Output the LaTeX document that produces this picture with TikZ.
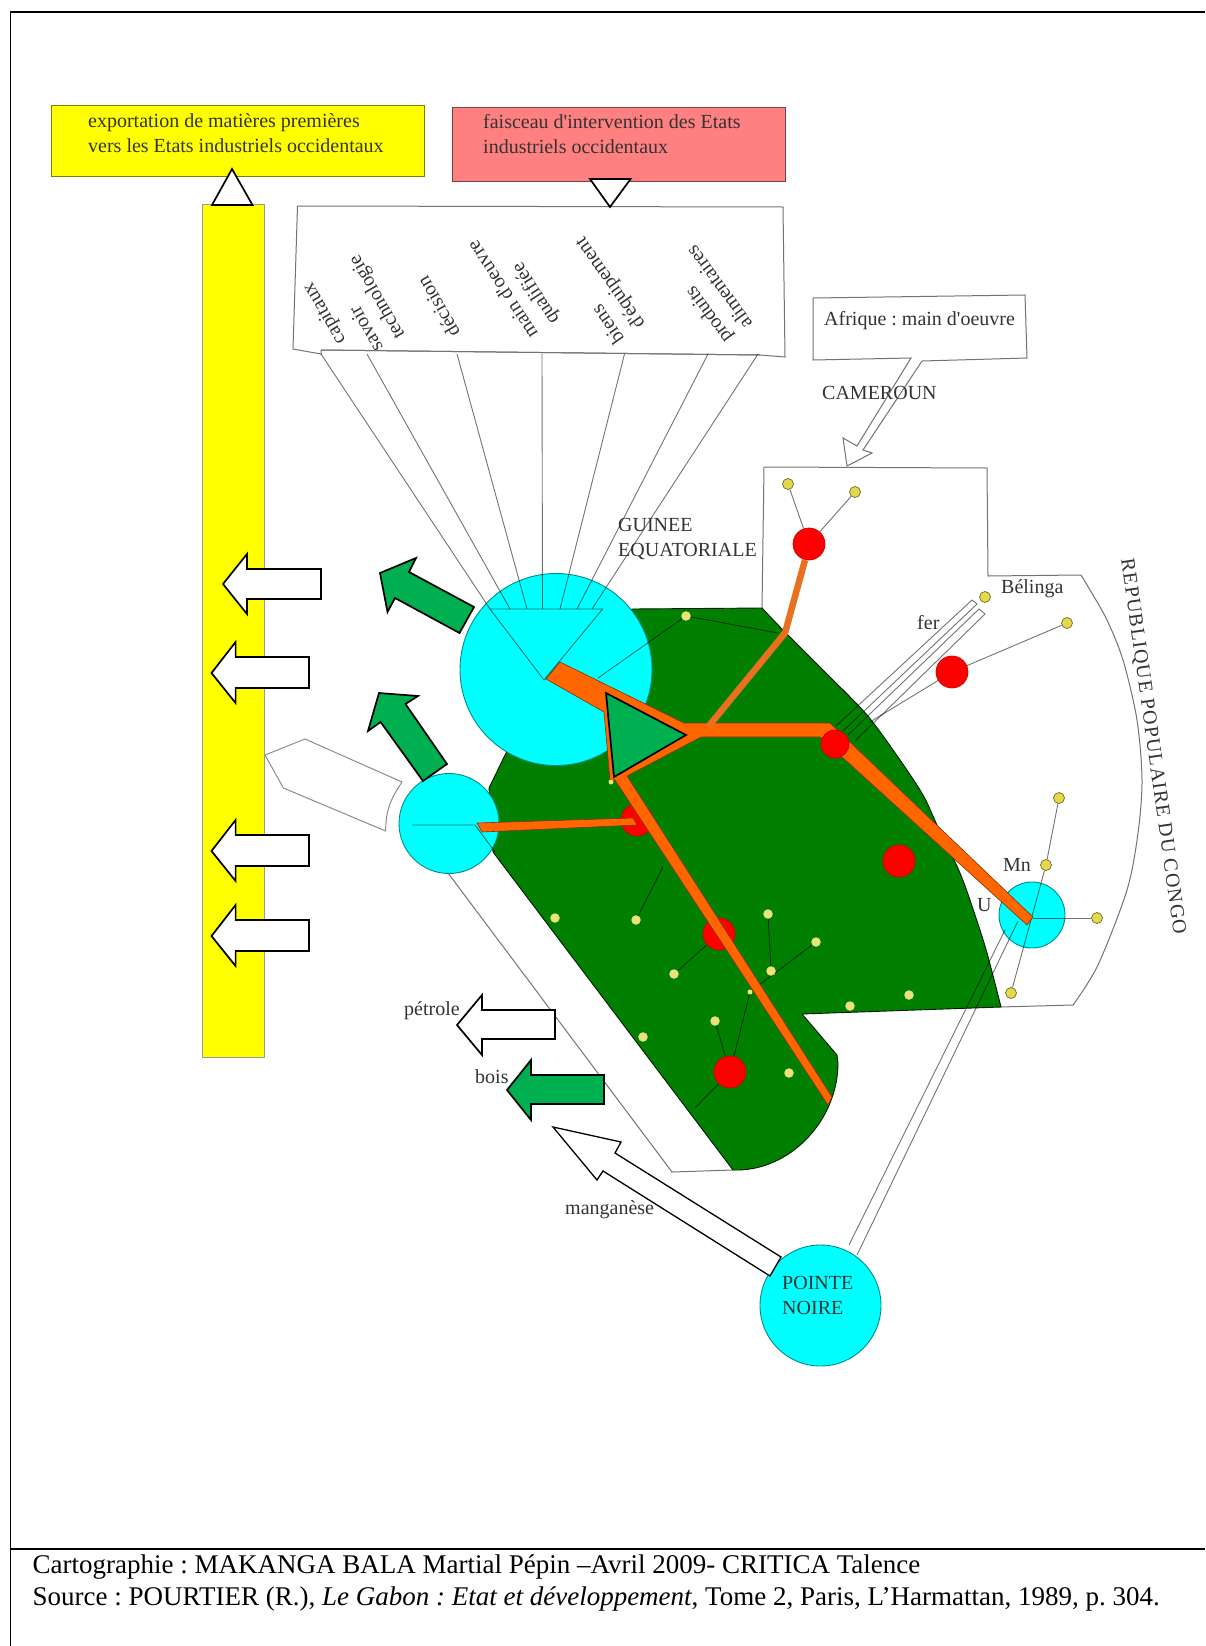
\documentclass[tikz,border=0pt]{standalone}
\usepackage{fontspec}
\setmainfont{Liberation Serif}[Ligatures=TeXOff]
\frenchspacing
\pgfdeclarelayer{back}
\pgfdeclarelayer{lines}
\pgfsetlayers{back,lines,main}
\definecolor{gabgreen}{HTML}{007F00}
\definecolor{arrgreen}{HTML}{00B050}
\definecolor{rose}{HTML}{FF8080}
\definecolor{orng}{HTML}{FF6600}
\definecolor{orng2}{HTML}{E8701F}
\definecolor{ydot}{HTML}{E4D84C}
\definecolor{labelgray}{HTML}{333333}
\definecolor{pcyan}{HTML}{00FFFF}
\definecolor{pyellow}{HTML}{FFFF00}
\definecolor{pred}{HTML}{FF0000}
\tikzset{
  lab/.style={inner sep=0pt,text=labelgray,font=\fontsize{20}{25}\selectfont,align=left},
  thin line/.style={draw=black,draw opacity=.55,line width=.9pt},
  frameline/.style={draw=black,line width=1.6pt},
  greyshape/.style={draw=black!55,line width=1pt},
  blockarrow/.style={draw=black,line width=1.7pt,fill=white,line join=miter},
  greenarrow/.style={blockarrow,fill=arrgreen},
  orangeband/.style={fill=orng,draw=black!50!orng,line width=.6pt},
  cyandisc/.style={circle,inner sep=0pt,fill=pcyan,draw=black!45!pcyan,line width=.9pt},
  reddisc/.style={circle,inner sep=0pt,fill=pred,draw=pred!80!black,line width=.7pt,minimum size=32pt},
  ydisc/.style={circle,inner sep=0pt,fill=ydot,draw=black!50!ydot,line width=.7pt,minimum size=11pt},
  gdisc/.style={circle,inner sep=0pt,fill=ydot!75!white,minimum size=9.5pt},
}
\begin{document}
\begin{tikzpicture}[x=1pt,y=-1pt]
\useasboundingbox (0,0) rectangle (1205,1646);
\begin{pgfonlayer}{back}
\fill[white] (0,0) rectangle (1205,1646);
% frame
\draw[frameline] (1205,12) -- (10.5,12) -- (10.5,1646);
\draw[frameline] (10.5,1549) -- (1205,1549);
% header boxes
\draw[fill=pyellow,draw=black!50!pyellow,line width=1pt] (51,105) rectangle (424.5,176);
\draw[fill=rose,draw=black!50!rose,line width=1pt] (452,107) rectangle (785,181);
% vertical bar
\draw[fill=pyellow,draw=black!40,line width=1pt] (202,204) rectangle (264,1057);
% fan box
\draw[greyshape,fill=white] (297.5,206) -- (783,207) -- (785,357) -- (760,355) -- (321,350) -- (321,354) -- (293,349) -- cycle;
\draw[greyshape] (321,350) -- (760,355);
% Afrique callout
\draw[greyshape,fill=white] (813,298) -- (1025,295) -- (1027,358) -- (922,361) -- (863,450) -- (872,453) -- (847,466) -- (843,438) -- (857,446) -- (911,358) -- (813,360) -- cycle;
% frontier
\draw[greyshape] (412,825) -- (672,1172) -- (733,1170);
\draw[greyshape] (1000,1007) -- (1073,1005) -- plot[smooth] coordinates {(1073,1005) (1098,965) (1127,890) (1138,833) (1142,780) (1137,720) (1123,660) (1107,620) (1090,590) (1081,575)} -- (988,576) -- (987,468) -- (764,467) -- (762,608);
% white pentagon
\draw[draw=black!45,line width=1pt,fill=white] (265,755) -- (305,739) -- (402,782) .. controls (390,800) and (386,810) .. (385.6,831) -- (283.4,788) -- cycle;
% Gabon
\draw[fill=gabgreen,draw=black!80!gabgreen,line width=.9pt,line join=round]
 (632,609) -- (762,608) -- plot[smooth,tension=.5] coordinates {(762,608) (783,630) (825,672) (867,715) (900,760) (923,795) (937,825) (960,873) (975,915) (987,953) (1001,1007)} -- (802,1014) -- (837,1055) -- (838,1063) .. controls (838,1120) and (790,1172) .. (733,1170) -- (493,852) -- (489,788) -- (506,753) -- cycle;
% cities
\node[cyandisc,minimum size=192pt] (lbv) at (556,669.5) {};
\node[cyandisc,minimum size=100pt] (pog) at (449,823.5) {};
\node[cyandisc,minimum size=66pt] (fcv) at (1032,915) {};
\node[cyandisc,minimum size=121pt] (ptn) at (820.5,1305.5) {};
\end{pgfonlayer}
% named points
\coordinate (tL) at (490,609); \coordinate (tR) at (602.6,609); \coordinate (tA) at (544,680);
\coordinate (sL) at (412,825); \coordinate (sR) at (475,825); \coordinate (sB) at (495,852);
\coordinate (j1) at (598,678); \coordinate (j2) at (778,633);
\coordinate (uhub) at (1033,918);
\coordinate (r2end) at (870,722);
\coordinate (r7end) at (695,1108);
\coordinate (g1) at (663,867);
\coordinate (ptnL) at (849,1245); \coordinate (ptnR) at (857,1255);
\coordinate (uL) at (1005,930); \coordinate (uR) at (1018,921);
\foreach \n/\a/\b in {1/321/490,2/367/510,3/457/527,4/542/542.5,5/624.5/560,6/708/577,7/758/592}{
  \coordinate (ft\n) at (\a,354);
  \coordinate (fb\n) at (\b,609);
}
% reds below the orange
\node[reddisc] (r5) at (637,820) {};
\node[reddisc] (r6) at (719,934) {};
% orange network
\draw[orangeband,line join=round] (560,662) -- (684,723) -- (830,723) -- (1033,917) -- (1027,925) -- (820,737) -- (701,737) -- (627,776) -- (832,1097) -- (828,1105) -- (615,780) -- (610,780) -- (604,712) -- (546,679) -- cycle;
\draw[orangeband] (477,823) -- (633,818) -- (637,825) -- (482,832) -- cycle;
\draw[orng2,line width=6.5pt,line join=round] (708,727) -- (785,633) -- (805,560);
% reds above
\node[reddisc] (r1) at (809,544) {};
\node[reddisc] (r2) at (952,672) {};
\node[reddisc,minimum size=28pt] (r3) at (835,744) {};
\node[reddisc] (r4) at (899,861) {};
\node[reddisc] (r7) at (730,1072) {};
% yellow dots
\node[ydisc] (d1) at (788,484) {};
\node[ydisc] (d2) at (855,492) {};
\node[ydisc] (d3) at (985,597) {};
\node[ydisc] (d4) at (1067,623) {};
\node[ydisc] (d5) at (1059,798) {};
\node[ydisc] (d6) at (1046,865) {};
\node[ydisc] (d7) at (1097,918) {};
\node[ydisc] (d8) at (1011,993) {};
\node[gdisc] (e1) at (686,616) {};
\node[gdisc] (e2) at (555,918) {};
\node[gdisc] (e3) at (636,920) {};
\node[gdisc] (e4) at (674,974) {};
\node[gdisc] (e5) at (768,914) {};
\node[gdisc] (e6) at (816,942) {};
\node[gdisc] (e7) at (771,971) {};
\node[gdisc,minimum size=5pt] (e8) at (750,992) {};
\node[gdisc] (e9) at (715,1021) {};
\node[gdisc] (e10) at (643,1037) {};
\node[gdisc] (e11) at (789,1073) {};
\node[gdisc] (e12) at (909,995) {};
\node[gdisc] (e13) at (850,1006) {};
\node[gdisc,minimum size=5pt] (e14) at (611,782) {};
% connectors under the nodes
\begin{pgfonlayer}{lines}
\foreach \n in {1,...,7} { \draw[thin line] (ft\n) -- (fb\n); }
\draw[thin line] (tL) -- (tR) -- (tA) -- cycle;
\draw[thin line] (sL) -- (sR) -- (sB);
\draw[thin line] (e1) -- (j1);
\draw[thin line] (e1) -- (j2);
\draw[thin line] (d1) -- (r1);
\draw[thin line] (d2) -- (r1);
\draw[thin line] (d4) -- (r2);
\draw[thin line] (r2) -- (r2end);
\draw[thin line] (d5) -- (d6);
\draw[thin line] (d6) -- (d8);
\draw[thin line] (uhub) -- (d7);
\draw[thin line] (r6) -- (e4);
\draw[thin line] (e3) -- (g1);
\draw[thin line] (e5) -- (e7);
\draw[thin line] (e6) -- (e8);
\draw[thin line] (e8) -- (r7);
\draw[thin line] (r7) -- (e9);
\draw[thin line] (r7) -- (r7end);
\draw[thin line] (ptnL) -- (uL);
\draw[thin line] (ptnR) -- (uR);
% fer strips
\draw[thin line] (836,726) -- (972,600) -- (977,604) -- (843,731);
\draw[thin line] (848,735) -- (979,609) -- (985,614) -- (855,741);
\end{pgfonlayer}
% triangles on header
\draw[blockarrow] (232,169) -- (252.5,205) -- (212,205) -- cycle;
\draw[blockarrow] (590,179) -- (630.6,179) -- (610,207) -- cycle;
% central green triangle
\draw[greenarrow] (606,693) -- (686,735) -- (614,777) -- cycle;
% white arrows to the bar
\draw[blockarrow] (223,584) -- (247,554) -- (247,569) -- (321,569) -- (321,599) -- (247,599) -- (247,614) -- cycle;
\draw[blockarrow] (211.5,673) -- (235.6,642) -- (235.6,657) -- (309,657) -- (309,688) -- (235.6,688) -- (235.6,703) -- cycle;
\draw[blockarrow] (211.5,851) -- (235.6,820) -- (235.6,835) -- (309,835) -- (309,866) -- (235.6,866) -- (235.6,881) -- cycle;
\draw[blockarrow] (211.5,936) -- (235.6,905) -- (235.6,920) -- (309,920) -- (309,951) -- (235.6,951) -- (235.6,966) -- cycle;
% green diagonal arrows
\draw[greenarrow] (380,573) -- (416,558) -- (409,572) -- (474,607) -- (459.5,633) -- (395,598) -- (387.5,612) -- cycle;
\draw[greenarrow] (379,693) -- (418,696) -- (405.5,704) -- (447,764) -- (423,781) -- (380.6,722) -- (368,731) -- cycle;
% petrole / bois / manganese arrows
\draw[blockarrow] (457,1025) -- (482,995) -- (482,1010) -- (555,1010) -- (555,1039) -- (482,1039) -- (482,1055) -- cycle;
\draw[greenarrow] (507,1090) -- (531,1060) -- (531,1075) -- (604,1075) -- (604,1104) -- (531,1104) -- (531,1120) -- cycle;
\draw[blockarrow,line width=1.3pt] (553,1127) -- (621,1142) -- (615,1153) -- (781,1257) -- (770,1276) -- (603,1171) -- (597,1180) -- cycle;
% texts
\node[lab,anchor=west,text=black!80] (t1) at (88,133.5) {exportation de matières premières\\vers les Etats industriels occidentaux};
\node[lab,anchor=west,text=black!80] (t2) at (483,134.5) {faisceau d'intervention des Etats\\industriels occidentaux};
\node[lab,rotate=120] (capx) at (325,313) {capitaux};
\node[lab,rotate=120] (savoir) at (367,303) {savoir\\technologie};
\node[lab,rotate=120] (decis) at (438,307) {décision};
\node[lab,rotate=123] (mainoe) at (514,282) {main d'oeuvre\\qualifiée};
\node[lab,rotate=125] (biens) at (600.5,290) {biens\\d'équipement};
\node[lab,rotate=126] (prod) at (708.5,295) {produits\\alimentaires};
\node[lab,anchor=west] (afr) at (824,321) {Afrique : main d'oeuvre};
\node[lab,anchor=west] (cam) at (822,393) {CAMEROUN};
\node[lab,anchor=west] (guin) at (618,538.5) {GUINEE\\EQUATORIALE};
\node[lab,anchor=west] (bel) at (1001,589) {Bélinga};
\node[lab,anchor=west] (fer) at (917,623) {fer};
\node[lab,anchor=west] (mn) at (1003,865) {Mn};
\node[lab,anchor=west] (uu) at (977,905) {U};
\node[lab,anchor=west] (pet) at (404,1011) {pétrole};
\node[lab,anchor=west] (boi) at (475,1077) {bois};
\node[lab,anchor=west] (man) at (565,1210) {manganèse};
\node[lab,anchor=west] (pn) at (782,1295) {POINTE\\NOIRE};
\node[lab,rotate=-82] (congo) at (1152.5,746.5) {\addfontfeature{LetterSpace=6}REPUBLIQUE POPULAIRE DU CONGO};
\node[inner sep=0pt,anchor=west,align=left,font=\fontsize{27}{32}\selectfont] (foot) at (32.5,1582.5) {Cartographie : MAKANGA BALA Martial Pépin –Avril 2009- CRITICA Talence\\Source : POURTIER (R.), \textit{Le Gabon : Etat et développement}, Tome 2, Paris, L’Harmattan, 1989, p. 304.};
\end{tikzpicture}
\end{document}
